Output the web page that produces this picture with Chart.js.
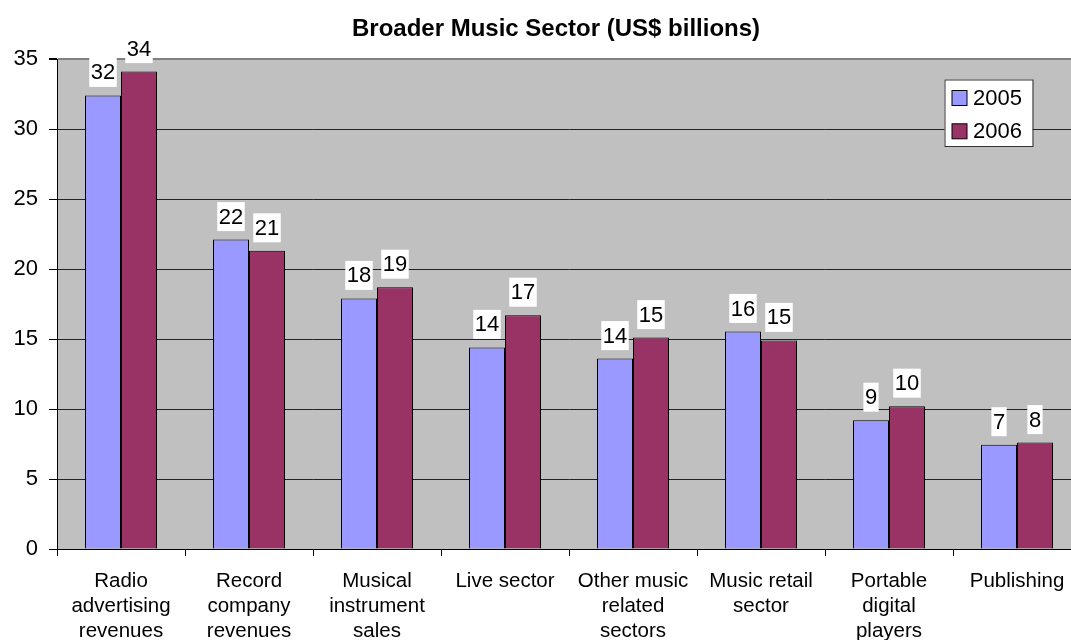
<!DOCTYPE html>
<html>
<head>
<meta charset="utf-8">
<script src="https://cdn.jsdelivr.net/npm/chart.js@4/dist/chart.umd.min.js"></script>
<style>
  html, body { margin: 0; padding: 0; background: #fff; }
  #wrap { width: 1071px; height: 640px; overflow: hidden; }
</style>
</head>
<body>
<div id="wrap"><canvas id="music" width="1112" height="640"></canvas></div>
<script>
const categories = [
  ['Radio', 'advertising', 'revenues'],
  ['Record', 'company', 'revenues'],
  ['Musical', 'instrument', 'sales'],
  'Live sector',
  ['Other music', 'related', 'sectors'],
  ['Music retail', 'sector'],
  ['Portable', 'digital', 'players'],
  'Publishing'
];
const years = ['2005', '2006'];
const values2005 = [32.4, 22.1, 17.9, 14.4, 13.6, 15.54, 9.2, 7.45];
const values2006 = [34.1, 21.3, 18.7, 16.7, 15.1, 14.9, 10.2, 7.6];
const yTicks = [0, 5, 10, 15, 20, 25, 30, 35];

const FONT = "'Liberation Sans', Arial, sans-serif";

// grey plot area like the old excel charts
const plotBg = {
  id: 'plotBg',
  beforeDraw(chart) {
    const a = chart.chartArea, ctx = chart.ctx;
    ctx.save();
    ctx.fillStyle = '#c0c0c0';
    ctx.fillRect(a.left, a.top, a.right - a.left, a.bottom - a.top);
    ctx.restore();
  }
};

// value labels in white boxes above each bar
const valueBoxes = {
  id: 'valueBoxes',
  afterDatasetsDraw(chart) {
    const ctx = chart.ctx;
    ctx.save();
    ctx.font = '22px ' + FONT;
    ctx.textAlign = 'center';
    ctx.textBaseline = 'middle';
    chart.data.datasets.forEach((ds, i) => {
      chart.getDatasetMeta(i).data.forEach((bar, j) => {
        const txt = String(Math.round(ds.data[j]));
        const w = ctx.measureText(txt).width + 3;
        const h = 29;
        const bottom = bar.y - 8.5;
        ctx.fillStyle = '#fff';
        ctx.fillRect(bar.x - w / 2, bottom - h, w, h);
        ctx.fillStyle = '#000';
        ctx.fillText(txt, bar.x, bottom - h / 2 + 1);
      });
    });
    ctx.restore();
  }
};

// legend box inside the plot, top right
const boxLegend = {
  id: 'boxLegend',
  afterDraw(chart) {
    const a = chart.chartArea, ctx = chart.ctx;
    const x = a.left + 887.5, y = a.top + 20.5;
    ctx.save();
    ctx.fillStyle = '#fff';
    ctx.fillRect(x, y, 88, 66.5);
    ctx.strokeStyle = '#333';
    ctx.lineWidth = 1;
    ctx.strokeRect(x + 0.5, y + 0.5, 88, 66.5);
    ctx.font = '22px ' + FONT;
    ctx.textBaseline = 'middle';
    chart.data.datasets.forEach((ds, i) => {
      const cy = y + 18.5 + i * 33.3;
      ctx.fillStyle = ds.backgroundColor;
      ctx.fillRect(x + 7.5, cy - 7.5, 15, 15);
      ctx.strokeStyle = '#000';
      ctx.strokeRect(x + 7.5, cy - 7.5, 15, 15);
      ctx.fillStyle = '#000';
      ctx.fillText(ds.label, x + 28.5, cy + 1);
    });
    ctx.restore();
  }
};

new Chart(document.getElementById('music'), {
  type: 'bar',
  data: {
    labels: categories,
    datasets: [
      { label: years[0], data: values2005, backgroundColor: '#9999ff', borderColor: '#000', borderWidth: 1 },
      { label: years[1], data: values2006, backgroundColor: '#993366', borderColor: '#000', borderWidth: 1 }
    ]
  },
  options: {
    responsive: false,
    animation: false,
    layout: { padding: 0 },
    datasets: { bar: { categoryPercentage: 0.5625, barPercentage: 1 } },
    plugins: {
      legend: { display: false },
      tooltip: { enabled: false },
      title: {
        display: true,
        text: 'Broader Music Sector (US$ billions)',
        color: '#000',
        font: { family: FONT, size: 24, weight: 'bold', lineHeight: 1.2 },
        padding: { top: 15, bottom: 15.2 }
      }
    },
    scales: {
      x: {
        afterFit(scale) { scale.height = 91; },
        border: { display: true, color: '#000', width: 1 },
        grid: { drawOnChartArea: false, drawTicks: true, tickLength: 7, tickColor: '#000', offset: true },
        ticks: { color: '#000', padding: 13, maxRotation: 0, autoSkip: false, font: { family: FONT, size: 20.5, lineHeight: 1.22 } }
      },
      y: {
        min: 0,
        max: 35,
        afterFit(scale) { scale.width = 57; },
        afterBuildTicks(scale) { scale.ticks = yTicks.map(v => ({ value: v })); },
        border: { display: true, color: '#000', width: 1 },
        grid: {
          color: ctx => ctx.tick && ctx.tick.value === 35 ? '#808080' : '#222',
          lineWidth: ctx => ctx.tick && ctx.tick.value === 35 ? 2 : 1,
          tickLength: 8,
          tickColor: '#000'
        },
        ticks: { color: '#000', padding: 11, font: { family: FONT, size: 22 } }
      },
      // empty strip on the right so the title stays centred on the whole canvas
      spare: {
        type: 'linear',
        position: 'right',
        afterFit(scale) { scale.width = 31; },
        grid: { display: false },
        border: { display: false },
        ticks: { display: false }
      }
    }
  },
  plugins: [plotBg, valueBoxes, boxLegend]
});
</script>
</body>
</html>
